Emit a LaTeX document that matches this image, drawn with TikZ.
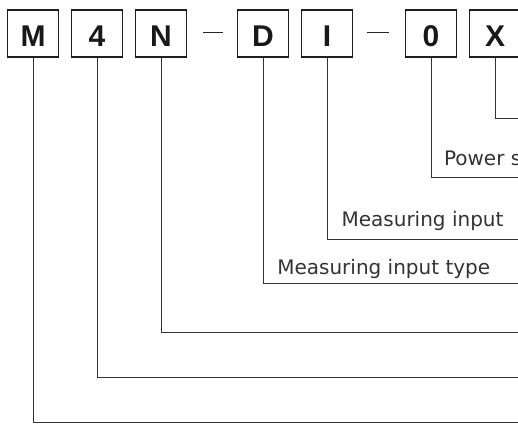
\documentclass[tikz,border=0pt]{standalone}
\usepackage{fontspec}
\setmainfont{DejaVu Sans}
\newfontfamily\boxfont{Liberation Sans}
\begin{document}
\begin{tikzpicture}[x=1pt,y=-1pt,
  codebox/.style={draw=black!88, line width=1.3pt, minimum width=51pt, minimum height=47pt,
    inner sep=0pt, text height=26pt, text depth=0pt,
    font=\boxfont\bfseries\fontsize{30}{30}\selectfont, text=black!90},
  lead/.style={draw=black!80, line width=1pt},
  dashline/.style={draw=black!85, line width=1.4pt},
  lbl/.style={anchor=base west, inner sep=0pt, text=black!80,
    font=\fontsize{20}{21}\selectfont}]
\useasboundingbox (0,0) rectangle (518,424);
\clip (0,0) rectangle (518,424);
% code boxes
\node[codebox] (bM) at (33,33.5) {M};
\node[codebox] (b4) at (97,33.5) {4};
\node[codebox] (bN) at (161,33.5) {N};
\node[codebox] (bD) at (263,33.5) {D};
\node[codebox] (bI) at (327,33.5) {I};
\node[codebox] (b0) at (431,33.5) {0};
\node[codebox] (bX) at (495,33.5) {X};
% separators
\draw[dashline] (203,32.3) -- (222.5,32.3);
\draw[dashline] (367,32.3) -- (388.5,32.3);
% right ends of leader lines (beyond the page edge)
\coordinate (eX) at (530,118.3);
\coordinate (e0) at (530,177.7);
\coordinate (eI) at (530,239);
\coordinate (eD) at (530,283.3);
\coordinate (eN) at (530,332.3);
\coordinate (e4) at (530,377.7);
\coordinate (eM) at (530,422.7);
% leader lines
\draw[lead] (bX.south) |- (eX);
\draw[lead] (b0.south) |- (e0);
\draw[lead] (bI.south) |- (eI);
\draw[lead] (bD.south) |- (eD);
\draw[lead] (bN.south) |- (eN);
\draw[lead] (b4.south) |- (e4);
\draw[lead] (bM.south) |- (eM);
% labels
\node[lbl] (l0) at (443.8,165.2) {Power s};
\node[lbl] (lI) at (341.4,226.8) {Measuring input};
\node[lbl] (lD) at (277.1,274.2) {Measuring input type};
\end{tikzpicture}
\end{document}
